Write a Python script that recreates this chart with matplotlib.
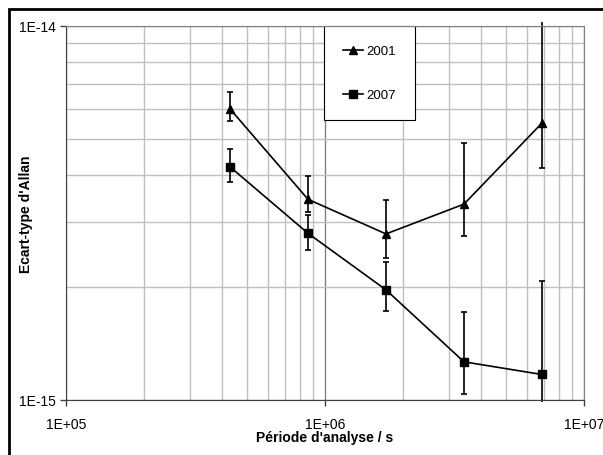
import numpy as np
import matplotlib
matplotlib.use("Agg")
import matplotlib.pyplot as plt
from matplotlib.patches import Rectangle
from matplotlib.ticker import LogLocator, NullFormatter, FixedLocator

plt.rcParams['font.family'] = ['Liberation Sans', 'DejaVu Sans']

# periode d'analyse (s)
tau = [4.3e5, 8.6e5, 1.72e6, 3.44e6, 6.88e6]

# ecart-type d'Allan, 2001
y2001 = [6.0e-15, 3.44e-15, 2.78e-15, 3.34e-15, 5.5e-15]
hi2001 = [6.67e-15, 3.97e-15, 3.43e-15, 4.86e-15, 1.025e-14]
lo2001 = [5.57e-15, 3.18e-15, 2.40e-15, 2.75e-15, 4.17e-15]

# ecart-type d'Allan, 2007
y2007 = [4.2e-15, 2.79e-15, 1.97e-15, 1.265e-15, 1.17e-15]
hi2007 = [4.69e-15, 3.13e-15, 2.34e-15, 1.72e-15, 2.08e-15]
lo2007 = [3.83e-15, 2.52e-15, 1.73e-15, 1.04e-15, 0.99e-15]

xticks = [1e5, 1e6, 1e7]
xticklabels = ["1E+05", "1E+06", "1E+07"]
yticks = [1e-15, 1e-14]
yticklabels = ["1E-15", "1E-14"]

fig = plt.figure(figsize=(6.03, 4.56), dpi=100)
ax = fig.add_axes([66/603, 1-401/456, 518/603, 374/456])

ax.set_xscale('log')
ax.set_yscale('log')
ax.set_xlim(1e5, 1e7)
ax.set_ylim(1e-15, 1e-14)

ax.xaxis.set_major_locator(FixedLocator(xticks))
ax.set_xticklabels(xticklabels)
ax.yaxis.set_major_locator(FixedLocator(yticks))
ax.set_yticklabels(yticklabels)
ax.xaxis.set_minor_locator(LogLocator(base=10, subs=np.arange(2, 10)))
ax.yaxis.set_minor_locator(LogLocator(base=10, subs=np.arange(2, 10)))
ax.xaxis.set_minor_formatter(NullFormatter())
ax.yaxis.set_minor_formatter(NullFormatter())

ax.grid(True, which='major', color='#808080', lw=1.0)
ax.grid(True, which='minor', color='#c0c0c0', lw=1.0)
ax.set_axisbelow(True)

ax.tick_params(which='major', direction='out', length=4, width=1, color='#404040',
               labelsize=10, pad=3)
ax.tick_params(which='minor', length=0)
ax.tick_params(axis='x', pad=8)
for s in ['left', 'bottom']:
    ax.spines[s].set_color('#404040')
for s in ['top', 'right']:
    ax.spines[s].set_color('#808080')

def draw(y, lo, hi, marker, ms, label):
    y = np.array(y)
    err = [y - np.array(lo), np.array(hi) - y]
    eb = ax.errorbar(tau, y, yerr=err, color='black', lw=1.2, marker=marker, ms=ms,
                     capsize=2.5, elinewidth=1.2, capthick=1.2, label=label)
    for art in eb.lines[2]:
        art.set_clip_on(False)
    return eb

draw(y2001, lo2001, hi2001, '^', 6, '2001')
draw(y2007, lo2007, hi2007, 's', 5.5, '2007')

handles, labels = ax.get_legend_handles_labels()
handles = [h[0] for h in handles]
leg = ax.legend(handles, labels, loc='upper left', bbox_to_anchor=(0.498, 1.0),
                borderaxespad=0, fancybox=False, edgecolor='black', framealpha=1,
                fontsize=9.5, handlelength=1.5, handletextpad=0.25, labelspacing=2.4,
                borderpad=1.45)
leg.get_frame().set_linewidth(0.8)
leg.set_zorder(1.5)

ax.set_xlabel("Période d'analyse / s", fontsize=10, fontweight='bold')
ax.set_ylabel("Ecart-type d'Allan", fontsize=10, fontweight='bold')
ax.xaxis.set_label_coords(0.5, -0.080)
ax.yaxis.set_label_coords(-0.064, 0.5)

fig.add_artist(Rectangle((9/603, -0.05), 1.2, 1 - 10/456 + 0.05, transform=fig.transFigure,
                         fill=False, edgecolor='black', lw=2, clip_on=False))

fig.savefig("out.png", dpi=100)
